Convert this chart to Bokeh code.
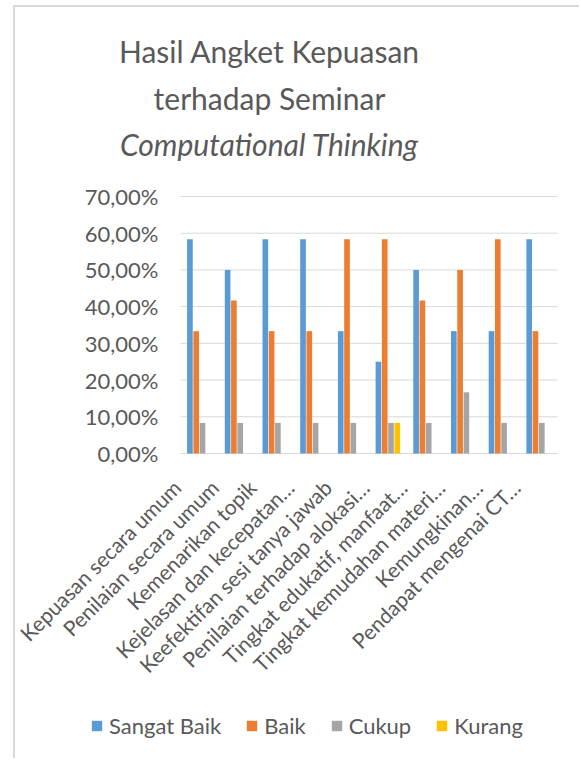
from math import pi
from bokeh.plotting import figure
from bokeh.models import (Range1d, Legend, LegendItem, Label, LabelSet, ColumnDataSource)
from bokeh.core.properties import value
from bokeh.transform import dodge
from bokeh.embed import file_html
from bokeh.resources import INLINE

categories = [
    "Kepuasan secara umum",
    "Penilaian secara umum",
    "Kemenarikan topik",
    "Kejelasan dan kecepatan…",
    "Keefektifan sesi tanya jawab",
    "Penilaian terhadap alokasi…",
    "Tingkat edukatif, manfaat…",
    "Tingkat kemudahan materi…",
    "Kemungkinan…",
    "Pendapat mengenai CT…",
]
sangat_baik = [0.5833, 0.5000, 0.5833, 0.5833, 0.3333, 0.2500, 0.5000, 0.3333, 0.3333, 0.5833]
baik = [0.3333, 0.4167, 0.3333, 0.3333, 0.5833, 0.5833, 0.4167, 0.5000, 0.5833, 0.3333]
cukup = [0.0833, 0.0833, 0.0833, 0.0833, 0.0833, 0.0833, 0.0833, 0.1667, 0.0833, 0.0833]
kurang = [0.0, 0.0, 0.0, 0.0, 0.0, 0.0833, 0.0, 0.0, 0.0, 0.0]
series_names = ["Sangat Baik", "Baik", "Cukup", "Kurang"]
series_colors = ["#5B9BD5", "#ED7D31", "#A5A5A5", "#FFC000"]
y_ticks = [0.0, 0.1, 0.2, 0.3, 0.4, 0.5, 0.6, 0.7]
y_tick_labels = ["0,00%", "10,00%", "20,00%", "30,00%", "40,00%", "50,00%", "60,00%", "70,00%"]
y_max = 0.7
title_lines = ["Hasil Angket Kepuasan", "terhadap Seminar", "Computational Thinking"]

FONT = "Lato"
TXT = "#595959"

n = len(categories)
cat_pos = [i + 0.5 for i in range(n)]   # category slot centres

# canvas size and pixel box of the bar area inside it
W, H = 566, 753
PL, PR, PT, PB = 165, 542, 189, 446
ux = (PR - PL) / n
uy = (PB - PT) / y_max
p = figure(width=W, height=H,
           x_range=Range1d(-PL / ux, n + (W - PR) / ux),
           y_range=Range1d(-(H - PB) / uy, y_max + PT / uy),
           x_axis_location=None, y_axis_location=None, min_border=0,
           output_backend="svg", toolbar_location=None)
p.styles = {"margin-left": "13px", "margin-top": "5px",
            "border-left": "2px solid #d9d9d9", "border-top": "2px solid #d9d9d9"}
p.outline_line_color = None
p.background_fill_color = "white"
p.border_fill_color = "white"
p.xgrid.visible = False
p.ygrid.visible = False

# horizontal gridlines (incl. the 0 baseline)
grid_src = ColumnDataSource(dict(t=y_ticks, lab=y_tick_labels))
p.segment(x0=0, x1=n, y0="t", y1="t", source=grid_src, line_color="#d9d9d9", line_width=1)

data = ColumnDataSource(dict(pos=cat_pos, cat=categories, sb=sangat_baik, b=baik, c=cukup, k=kurang))
cols = ["sb", "b", "c", "k"]
offsets = [-0.25, -0.0833, 0.0833, 0.25]
renderers = []
for col, off, color in zip(cols, offsets, series_colors):
    r = p.vbar(x=dodge("pos", off), top=col, width=0.15,
               source=data, fill_color=color, line_color=None)
    renderers.append(r)

# y tick labels
p.add_layout(LabelSet(x=0, y="t", text="lab", source=grid_src, x_offset=-22,
                      text_align="right", text_baseline="middle",
                      text_font=value(FONT), text_font_size="22px", text_color=TXT))

# category labels, rotated 45 degrees, ending just left of their group
p.add_layout(LabelSet(x=dodge("pos", -0.6), y=0, text="cat", source=data, y_offset=-30,
                      angle=pi / 4, text_align="right", text_baseline="middle",
                      text_font=value(FONT), text_font_size="21px", text_color=TXT))

# title
for line, yb, style in zip(title_lines, [710, 663, 617], ["normal", "normal", "italic"]):
    p.add_layout(Label(x=254, y=yb, x_units="screen", y_units="screen", text=line,
                       text_align="center", text_baseline="alphabetic",
                       text_font=FONT, text_font_size="30px", text_color=TXT,
                       text_font_style=style))

legend = Legend(items=[LegendItem(label=nm, renderers=[r]) for nm, r in zip(series_names, renderers)],
                orientation="horizontal", location=(75, 21))
legend.padding = 0
legend.margin = 0
legend.spacing = 24
legend.border_line_color = None
legend.background_fill_alpha = 0
legend.glyph_width = 13
legend.glyph_height = 13
legend.label_standoff = 6
legend.label_text_font = FONT
legend.label_text_font_size = "22px"
legend.label_text_color = TXT
p.add_layout(legend, "center")

open("out.html", "w").write(file_html(p, INLINE))
